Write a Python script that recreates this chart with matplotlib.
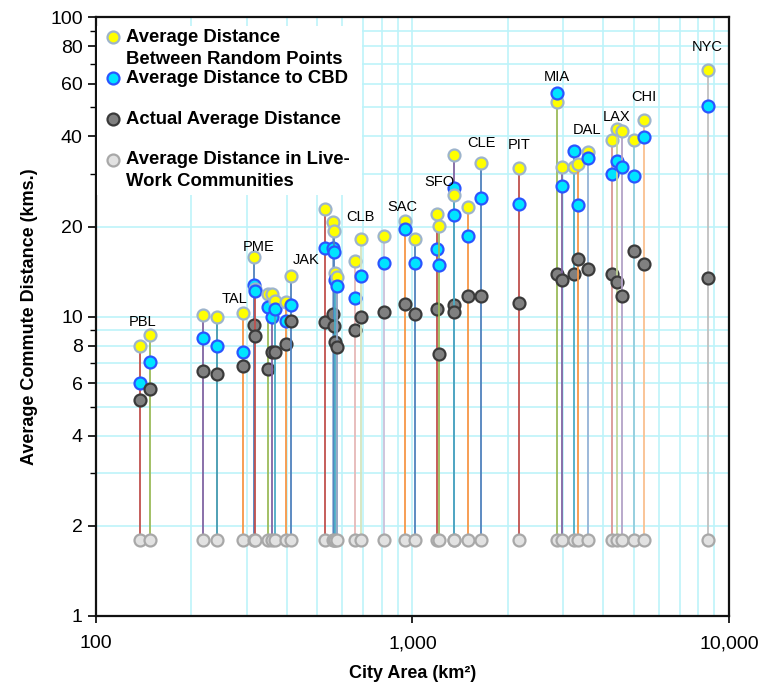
import matplotlib
matplotlib.use('Agg')
import matplotlib.pyplot as plt
from matplotlib.ticker import FixedLocator, FuncFormatter, LogLocator, NullFormatter

plt.rcParams['font.family'] = ['Liberation Sans', 'DejaVu Sans']

# City data
area = [138, 148, 218, 242, 292, 316, 318, 350, 359, 368,
        398, 412, 530, 562, 566, 571, 576, 656, 686, 815,
        950, 1019, 1199, 1217, 1348, 1352, 1494, 1652, 2178, 2855,
        2961, 3231, 3327, 3598, 4260, 4421, 4581, 5022, 5400, 8565]
rand_dist = [8.0, 8.7, 10.1, 9.95, 10.3, 15.8, 12.4, 11.9, 11.9, 11.3,
             11.2, 13.7, 22.9, 20.7, 19.4, 14.0, 13.6, 15.4, 18.2, 18.6,
             20.8, 18.2, 22.1, 20.1, 34.7, 25.5, 23.3, 32.6, 31.4, 52.1,
             31.6, 31.6, 32.4, 35.4, 38.8, 42.4, 41.6, 38.9, 45.5, 66.9]
cbd_dist = [5.98, 7.05, 8.51, 7.98, 7.60, 12.8, 12.2, 10.8, 9.98, 10.6,
            9.67, 10.9, 16.9, 17.0, 16.4, 13.3, 12.7, 11.5, 13.7, 15.1,
            19.6, 15.1, 16.8, 14.9, 26.9, 21.9, 18.6, 24.9, 23.8, 55.9,
            27.3, 35.7, 23.6, 33.9, 30.0, 33.0, 31.6, 29.4, 39.8, 50.4]
actual_dist = [5.25, 5.74, 6.56, 6.43, 6.84, 9.36, 8.62, 6.67, 7.62, 7.62,
               8.08, 9.67, 9.60, 10.2, 9.31, 8.25, 7.91, 9.03, 9.98, 10.4,
               11.0, 10.2, 10.6, 7.48, 10.9, 10.4, 11.7, 11.7, 11.1, 13.9,
               13.3, 13.9, 15.6, 14.4, 13.9, 13.1, 11.7, 16.6, 15.0, 13.5]
live_dist = [1.8, 1.8, 1.8, 1.8, 1.8, 1.8, 1.8, 1.8, 1.8, 1.8,
             1.8, 1.8, 1.8, 1.8, 1.8, 1.8, 1.8, 1.8, 1.8, 1.8,
             1.8, 1.8, 1.8, 1.8, 1.8, 1.8, 1.8, 1.8, 1.8, 1.8,
             1.8, 1.8, 1.8, 1.8, 1.8, 1.8, 1.8, 1.8, 1.8, 1.8]
city_labels = ['PBL', '', '', '', 'TAL', 'PME', '', '', '', '',
               '', 'JAK', '', '', '', '', '', '', 'CLB', '',
               'SAC', '', '', '', 'SFO', '', '', 'CLE', 'PIT', 'MIA',
               '', '', '', 'DAL', '', 'LAX', '', '', 'CHI', 'NYC']

line_colors = ['#c0504d', '#9bbb59', '#8064a2', '#4198af', '#f79646', '#4f81bd', '#c0504d', '#9bbb59', '#8064a2', '#4bacc6',
               '#f79646', '#4f81bd', '#c0504d', '#95b3d7', '#4f81bd', '#4bacc6', '#8ea0c0', '#e6b9b8', '#d7e4bd', '#ccc0da',
               '#f79646', '#4f81bd', '#c0504d', '#9bbb59', '#8064a2', '#4bacc6', '#f79646', '#4f81bd', '#c0504d', '#9bbb59',
               '#8064a2', '#4bacc6', '#f79646', '#95b3d7', '#d99694', '#c3d69b', '#b3a2c7', '#93cddd', '#fac090', '#c0c0c0']

# label offsets in pixels from the top marker of the city
label_offsets = {'PBL': (2, 24), 'TAL': (-9, 14), 'PME': (4, 10), 'JAK': (16, 16),
                 'CLB': (0, 22), 'SAC': (-3, 14), 'SFO': (-14, -27), 'CLE': (0, 20),
                 'PIT': (0, 23), 'MIA': (0, 16), 'DAL': (-1, 22), 'LAX': (0, 12),
                 'CHI': (0, 23), 'NYC': (0, 23)}

styles = [
    dict(mfc='#ffff00', mec='#9db4cc'),   # random points
    dict(mfc='#00e4ff', mec='#2a55ff'),   # CBD
    dict(mfc='#808080', mec='#3a3a3a'),   # actual
    dict(mfc='#e2e2e2', mec='#a8a8a8'),   # live-work
]
legend_text = [['Average Distance', 'Between Random Points'],
               ['Average Distance to CBD'],
               ['Actual Average Distance'],
               ['Average Distance in Live-', 'Work Communities']]

grid_color = '#bdf3fa'

fig = plt.figure(figsize=(7.63, 6.89), dpi=100)
ax = fig.add_axes([0.1258, 0.1060, 0.8296, 0.8688])
ax.set_xscale('log')
ax.set_yscale('log')
ax.set_xlim(100, 10000)
ax.set_ylim(1, 100)

for i in range(len(area)):
    x = area[i]
    vals = [rand_dist[i], cbd_dist[i], actual_dist[i], live_dist[i]]
    ax.plot([x, x], [live_dist[i], max(rand_dist[i], cbd_dist[i])],
            color=line_colors[i], lw=1.3, zorder=3)
    for v, st in zip(vals, styles):
        ax.plot([x], [v], 'o', ms=8.6, mew=1.6, zorder=3, **st)
    lab = city_labels[i]
    if lab:
        dx, dy = label_offsets[lab]
        ax.annotate(lab, (x, max(vals)), xytext=(dx, dy), textcoords='offset pixels',
                    ha='center', va='center', fontsize=10.5, zorder=5)

# grid
ax.xaxis.set_major_locator(FixedLocator([100, 1000, 10000]))
ax.xaxis.set_minor_locator(LogLocator(base=10, subs=range(2, 10)))
ax.xaxis.set_minor_formatter(NullFormatter())
ax.xaxis.set_major_formatter(FuncFormatter(lambda v, p: f'{int(v):,}'))
ax.yaxis.set_major_locator(FixedLocator([1, 2, 4, 6, 8, 10, 20, 40, 60, 80, 100]))
ax.yaxis.set_minor_locator(LogLocator(base=10, subs=range(1, 10)))
ax.yaxis.set_minor_formatter(NullFormatter())
ax.yaxis.set_major_formatter(FuncFormatter(lambda v, p: f'{int(v)}'))
ax.grid(True, which='both', color=grid_color, lw=1.2, zorder=0)
ax.set_axisbelow(True)
ax.tick_params(axis='x', which='minor', length=0)
ax.tick_params(axis='x', which='major', length=5, width=1.2, labelsize=14, pad=9)
ax.tick_params(axis='y', which='major', length=6, width=1.2, labelsize=14)
ax.tick_params(axis='y', which='minor', length=4, width=1.0)
for sp in ax.spines.values():
    sp.set_linewidth(1.6)
    sp.set_color('#111111')

ax.set_xlabel('City Area (km²)', fontsize=13, fontweight='bold', labelpad=9)
ax.set_ylabel('Average Commute Distance (kms.)', fontsize=13, fontweight='bold', labelpad=9)

# legend drawn by hand: marker at first text line
ax.add_patch(plt.Rectangle((0.002, 0.703), 0.418, 0.282, transform=ax.transAxes,
                           facecolor='white', edgecolor='none', zorder=4))
marker_y = [0.967, 0.898, 0.830, 0.762]
for k, lines in enumerate(legend_text):
    ax.plot([0.027], [marker_y[k]], 'o', ms=8.6, mew=1.6, transform=ax.transAxes,
            zorder=6, clip_on=False, **styles[k])
    for j, t in enumerate(lines):
        ax.text(0.047, marker_y[k] - j * 0.037, t, transform=ax.transAxes,
                ha='left', va='center', fontsize=13.3, fontweight='bold', zorder=6)

fig.savefig('out.png', dpi=100)
